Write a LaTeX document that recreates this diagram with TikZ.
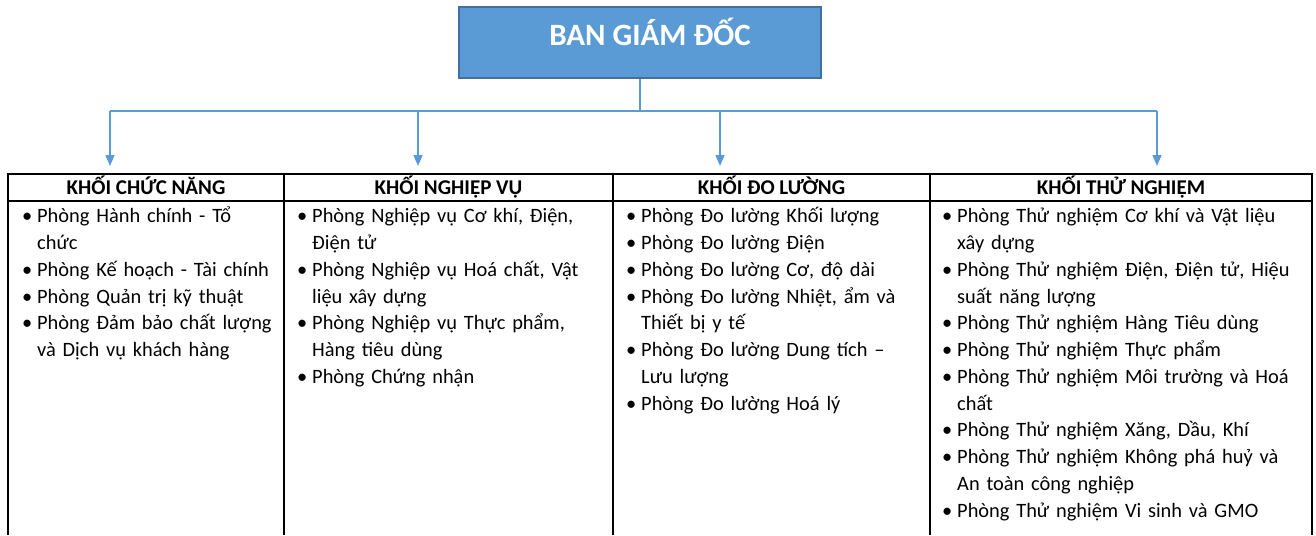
\documentclass[tikz,border=0pt]{standalone}
\usepackage{fontspec}
\setmainfont{Carlito}
\usepackage{enumitem}
\usetikzlibrary{positioning,arrows.meta}

\definecolor{bgdblue}{HTML}{5B9BD5}
\definecolor{bgdedge}{HTML}{41719C}

\newenvironment{dept}{\begin{itemize}[leftmargin=12pt,labelsep=5pt,itemsep=0pt,topsep=0pt,parsep=0pt,partopsep=0pt,label=\textbullet]}{\end{itemize}}

\tikzset{
  topbox/.style={draw=bgdedge, line width=1.5pt, fill=bgdblue, text=white, inner sep=0pt,
    minimum width=362pt, minimum height=71pt, text height=20pt, text depth=13pt,
    font=\fontsize{31}{36}\selectfont\bfseries},
  link/.style={bgdblue, line width=1.5pt},
  arr/.style={link, -{Triangle[width=9pt,length=11pt]}},
  grid/.style={line width=1.2pt},
  head/.style={draw, grid, outer sep=0pt, inner sep=0pt, minimum height=27pt,
    text height=17pt, text depth=2.5pt,
    font=\fontsize{21}{26}\selectfont\bfseries},
  list/.style={anchor=north west, inner sep=0pt, align=left,
    font=\fontsize{20.4}{26.75}\selectfont},
}

\begin{document}
\begin{tikzpicture}[x=1pt, y=-1pt]
    \useasboundingbox (0,0) rectangle (1316,535);
    \node [topbox] (bgd) at (640,42.5) {\hspace*{20pt}BAN GIÁM ĐỐC};
    \coordinate [below=32pt of bgd.south] (bus);
    \coordinate (bot) at (0,535);

    % headers of the four blocks
    \node [head, minimum width=276pt, anchor=north west] (h1) at (8,174) {KHỐI CHỨC NĂNG};
    \node [head, minimum width=329pt, right=0pt of h1] (h2) {KHỐI NGHIỆP VỤ};
    \node [head, minimum width=317pt, right=0pt of h2] (h3) {KHỐI ĐO LƯỜNG};
    \node [head, minimum width=382pt, right=0pt of h3] (h4) {KHỐI THỬ NGHIỆM};
    \foreach \c in {h1.south west, h2.south west, h3.south west, h4.south west, h4.south east}
        \draw [grid] (\c) -- (\c |- bot);

    \coordinate (a1) at (110,166);
    \coordinate (a2) at (418,166);
    \coordinate (a3) at (720,166);
    \coordinate (a4) at (1157,166);
    \draw [link] (bgd) -- (bus);
    \draw [link] (bus -| a1) -- (bus -| a4);
    \foreach \i in {1,...,4}
        \draw [arr] (bus -| a\i) -- (a\i);

    \node [list, text width=258pt] (l1) at ([xshift=17pt, yshift=5pt]h1.south west) {%
      \begin{dept}
        \item Phòng Hành chính - Tổ\newline chức
        \item Phòng Kế hoạch - Tài chính
        \item Phòng Quản trị kỹ thuật
        \item Phòng Đảm bảo chất lượng\newline và Dịch vụ khách hàng
      \end{dept}};
    \node [list, text width=310pt] (l2) at ([xshift=16pt, yshift=5pt]h2.south west) {%
      \begin{dept}
        \item Phòng Nghiệp vụ Cơ khí, Điện,\newline Điện tử
        \item Phòng Nghiệp vụ Hoá chất, Vật\newline liệu xây dựng
        \item Phòng Nghiệp vụ Thực phẩm,\newline Hàng tiêu dùng
        \item Phòng Chứng nhận
      \end{dept}};
    \node [list, text width=300pt] (l3) at ([xshift=16pt, yshift=5pt]h3.south west) {%
      \begin{dept}
        \item Phòng Đo lường Khối lượng
        \item Phòng Đo lường Điện
        \item Phòng Đo lường Cơ, độ dài
        \item Phòng Đo lường Nhiệt, ẩm và\newline Thiết bị y tế
        \item Phòng Đo lường Dung tích –\newline Lưu lượng
        \item Phòng Đo lường Hoá lý
      \end{dept}};
    \node [list, text width=365pt] (l4) at ([xshift=15pt, yshift=5pt]h4.south west) {%
      \begin{dept}
        \item Phòng Thử nghiệm Cơ khí và Vật liệu\newline xây dựng
        \item Phòng Thử nghiệm Điện, Điện tử, Hiệu\newline suất năng lượng
        \item Phòng Thử nghiệm Hàng Tiêu dùng
        \item Phòng Thử nghiệm Thực phẩm
        \item Phòng Thử nghiệm Môi trường và Hoá\newline chất
        \item Phòng Thử nghiệm Xăng, Dầu, Khí
        \item Phòng Thử nghiệm Không phá huỷ và\newline An toàn công nghiệp
        \item Phòng Thử nghiệm Vi sinh và GMO
      \end{dept}};
\end{tikzpicture}
\end{document}
